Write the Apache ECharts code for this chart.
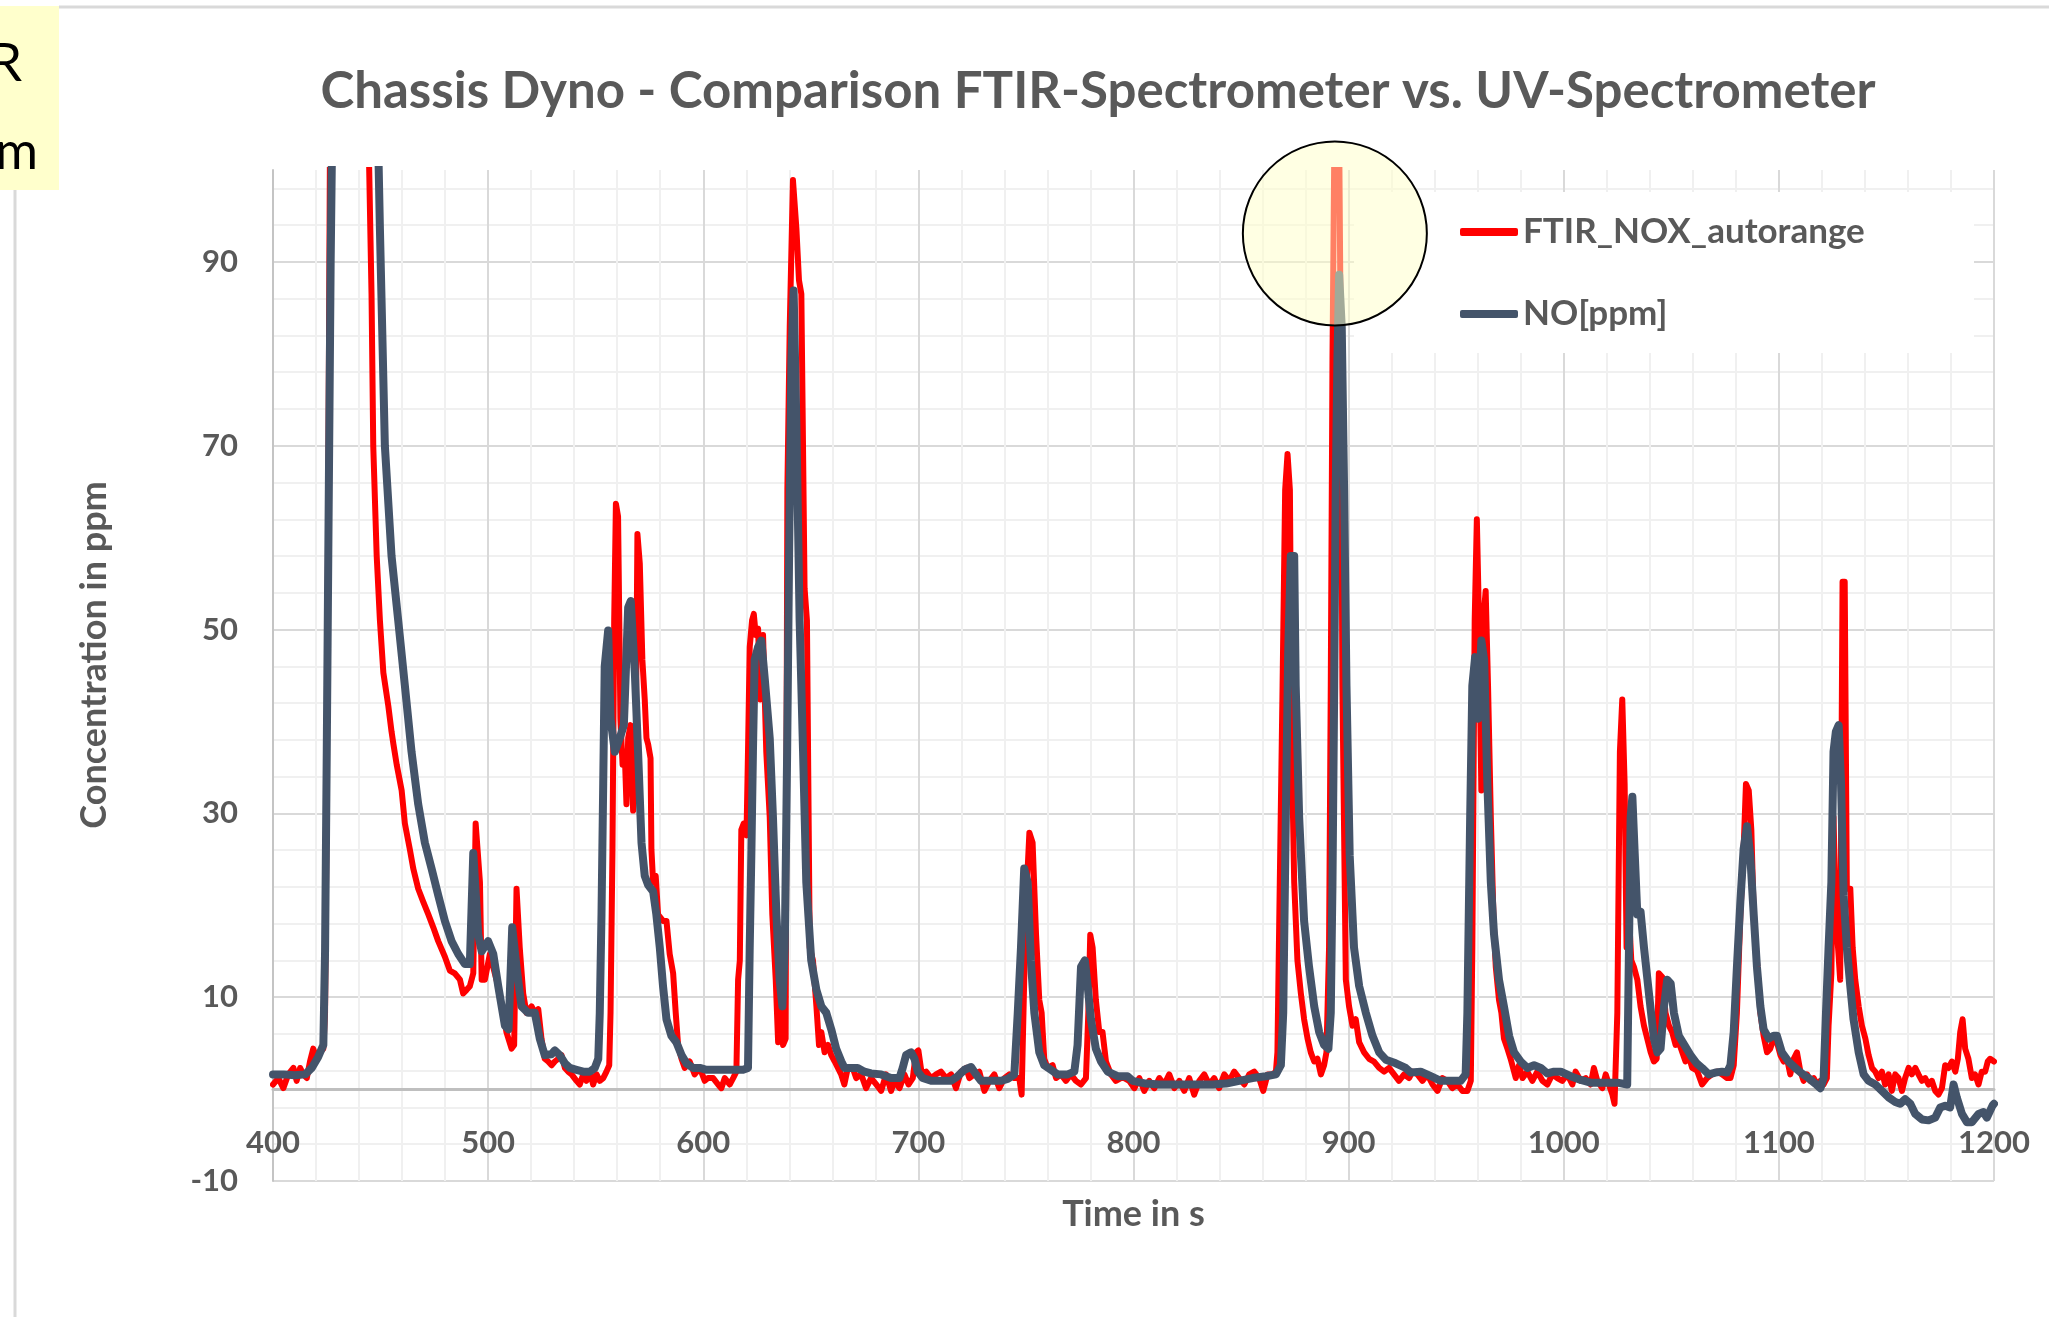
<!DOCTYPE html>
<html>
<head>
<meta charset="utf-8">
<script src="https://cdn.jsdelivr.net/npm/echarts@6/dist/echarts.min.js"></script>
<style>
html, body { margin: 0; padding: 0; background: #fff; }
#chart { width: 2049px; height: 1317px; }
</style>
</head>
<body>
<div id="chart"></div>
<script>
var titleText = 'Chassis Dyno - Comparison FTIR-Spectrometer vs. UV-Spectrometer';
var seriesNames = ['FTIR_NOX_autorange', 'NO[ppm]'];
var xLabel = 'Time in s';
var yLabel = 'Concentration in ppm';
var yTickLabels = [-10, 10, 30, 50, 70, 90];

// [time s, ppm]
var ftirNox = [
  [400.0,0.5],[402.5,1.2],[404.8,0.1],[407.1,1.6],[409.5,2.3],[411.0,0.9],[412.6,2.3],[414.1,1.6],[415.7,1.2],
  [417.2,3.0],[418.7,4.4],[420.3,3.3],[421.8,4.0],[423.4,4.4],[424.2,8.3],[424.9,29.6],[425.7,65.0],[426.5,104],
  [435.0,150],[444.4,104],[445.8,86.5],[446.6,70],[448.2,58],[449.7,51],[451.3,45.3],[453.6,41.7],[455.1,38.9],
  [456.0,37.5],[457.5,35.3],[459.8,32.5],[461.3,28.9],[463.6,26.1],[465.2,24.0],[467.5,21.8],[469.8,20.4],
  [472.2,19.0],[474.5,17.6],[476.8,16.1],[479.9,14.4],[482.2,12.9],[484.5,12.6],[486.9,11.9],[488.4,10.4],
  [490.0,10.8],[491.5,11.2],[493.1,12.6],[494.2,28.9],[496.2,22.5],[497.0,11.9],[498.5,11.9],[500.8,14.7],
  [503.1,12.6],[504.7,11.2],[507.0,8.3],[508.5,6.2],[510.9,4.4],[512.1,4.8],[513.2,21.8],[514.7,15.4],
  [516.3,10.4],[517.8,8.3],[520.2,9.0],[521.7,8.3],[523.3,8.7],[524.8,5.5],[526.3,3.3],[527.9,3.0],[529.5,2.6],
  [531.0,3.0],[532.6,3.3],[534.1,3.7],[535.7,2.3],[537.2,1.9],[538.8,1.6],[541.1,0.9],[542.6,0.5],[544.2,1.6],
  [545.7,0.9],[547.3,1.9],[548.8,0.5],[550.4,1.6],[551.9,0.9],[553.5,1.2],[555.0,1.9],[556.3,2.6],[556.9,8.3],
  [557.8,26.1],[558.6,51],[559.4,63.7],[560.4,62.3],[561.5,40.3],[562.5,35.3],[563.5,36.7],[564.3,31.0],
  [565.1,38.2],[566.2,39.6],[567.4,30.3],[568.6,36.7],[569.4,60.4],[570.5,57.2],[571.7,46.7],[572.8,42.4],
  [573.6,38.2],[574.4,37.5],[575.5,36.0],[575.9,26.1],[576.7,22.5],[577.9,23.2],[579.0,19.0],[581.3,18.3],
  [582.9,18.3],[584.4,14.7],[586.0,12.6],[587.2,8.3],[588.3,4.8],[589.9,3.3],[591.4,2.3],[593.7,3.0],[596.0,1.6],
  [598.4,2.3],[600.7,0.9],[602.2,1.2],[604.6,1.2],[606.9,0.5],[608.4,0.1],[610.0,1.2],[612.3,0.5],[613.9,1.2],
  [615.4,1.9],[616.2,11.9],[617.0,14.0],[617.7,28.2],[618.8,28.9],[620.1,27.6],[620.8,36.7],[621.6,48.1],
  [622.7,51.0],[623.5,51.7],[624.4,49.4],[625.5,50.1],[626.5,42.4],[627.8,49.4],[629.3,36.7],[630.9,29.6],
  [632.1,19.0],[633.7,11.9],[634.8,5.1],[635.8,9.7],[637.1,4.8],[638.3,5.5],[639.1,65.2],[640.2,82.9],
  [641.7,98.9],[643.3,93.6],[644.5,88.0],[645.6,86.5],[647.1,54.5],[648.2,51.0],[649.5,15.4],[651.0,14.0],
  [652.6,9.0],[653.8,4.8],[654.9,6.2],[656.4,4.0],[658.0,4.8],[659.5,3.7],[661.1,3.0],[662.6,2.3],[664.1,1.6],
  [665.6,0.5],[667.2,2.3],[669.5,2.3],[671.1,1.2],[673.4,1.6],[675.7,0.1],[678.0,1.2],[680.4,0.5],[682.7,-0.2],
  [685.0,1.6],[687.3,-0.2],[688.9,0.9],[691.2,0.1],[693.5,1.6],[695.4,0.5],[697.4,1.2],[698.9,4.0],[700.0,4.2],
  [701.6,1.6],[703.6,1.9],[705.9,1.2],[708.2,1.6],[710.5,1.9],[712.9,1.2],[715.2,1.6],[717.5,0.1],[719.8,1.9],
  [722.2,2.3],[723.7,1.2],[726.0,1.6],[728.3,1.9],[730.7,-0.2],[733.0,0.9],[735.3,1.6],[737.6,0.1],[740.0,1.2],
  [742.3,1.6],[744.6,1.2],[746.9,1.2],[748.0,-0.6],[749.2,11.9],[750.5,22.5],[751.6,27.9],[753.1,26.8],
  [754.7,16.8],[756.2,9.7],[757.3,8.3],[758.5,3.3],[760.1,2.3],[762.4,2.6],[764.0,1.2],[766.3,1.6],[768.6,0.9],
  [770.9,1.6],[773.2,0.9],[775.6,0.5],[777.9,1.2],[779.0,8.3],[779.9,16.8],[781.0,15.4],[782.5,9.7],[784.1,6.2],
  [785.6,6.2],[787.2,3.0],[789.5,1.6],[791.8,0.9],[794.1,1.2],[795.7,1.2],[798.0,0.9],[800.4,0.1],[802.7,1.2],
  [805.0,-0.2],[807.3,0.9],[809.7,0.1],[812.0,1.2],[814.3,0.5],[816.6,1.6],[819.0,0.1],[821.3,0.9],[823.6,-0.2],
  [825.9,1.2],[828.2,-0.6],[830.6,0.9],[832.9,1.6],[835.2,0.5],[837.5,1.2],[839.8,0.1],[842.2,1.6],[844.5,0.9],
  [846.8,1.9],[849.1,1.2],[851.5,0.5],[853.8,1.6],[856.1,1.9],[858.4,1.2],[860.3,-0.2],[862.3,1.6],[864.6,1.6],
  [866.2,1.9],[866.9,4.0],[868.0,22.5],[869.3,43.9],[870.5,65.2],[871.6,69.1],[872.7,65.2],[873.6,36.7],
  [874.7,22.5],[876.2,14.0],[877.8,10.4],[879.3,7.6],[880.9,5.5],[882.4,4.0],[884.0,3.0],[885.5,3.3],[887.1,1.6],
  [888.6,2.6],[889.7,4.0],[890.9,15.4],[891.7,43.9],[892.5,79.4],[893.4,104],[894.5,140],[895.6,104],
  [896.4,79.4],[897.1,43.9],[898.7,11.9],[900.2,9.0],[901.8,6.9],[903.3,7.6],[904.9,5.1],[907.2,4.0],[909.5,3.3],
  [911.8,3.0],[914.2,2.3],[916.5,1.9],[918.8,2.3],[921.1,1.6],[923.4,0.9],[925.8,1.6],[928.1,1.2],[929.7,1.9],
  [932.0,1.6],[934.3,0.9],[936.6,1.6],[939.0,0.5],[941.3,-0.2],[943.6,1.2],[945.9,0.9],[948.2,0.1],[950.6,0.5],
  [952.9,-0.2],[955.2,-0.2],[956.8,0.9],[957.5,15.4],[958.6,51],[959.6,62],[960.6,51],[961.7,32.5],[962.6,51],
  [963.7,54.2],[964.8,43.9],[966.1,29.6],[967.3,19.0],[968.4,13.3],[969.9,9.7],[971.0,8.3],[972.2,5.5],
  [973.8,4.4],[975.3,3.3],[977.7,1.2],[979.2,2.6],[980.8,1.2],[983.1,1.9],[985.4,0.9],[987.7,1.9],[990.1,0.9],
  [992.4,0.5],[994.7,1.6],[997.0,1.2],[999.3,0.9],[1001.7,1.6],[1004.0,0.5],[1005.5,1.9],[1007.9,0.9],
  [1010.2,1.2],[1012.5,0.5],[1014.0,2.3],[1015.6,0.9],[1017.9,0.1],[1019.5,1.6],[1021.0,0.5],[1022.6,-0.6],
  [1023.6,-1.6],[1024.9,8.3],[1026.1,36.7],[1027.2,42.4],[1028.3,33.2],[1029.2,15.4],[1030.3,19.0],[1031.4,14.0],
  [1032.6,13.3],[1034.2,11.9],[1035.7,9.0],[1037.3,6.9],[1038.8,5.5],[1040.4,4.0],[1041.9,3.0],[1043.2,3.3],
  [1044.2,12.6],[1045.8,12.2],[1047.3,8.3],[1048.9,6.9],[1050.4,6.2],[1052.0,4.8],[1053.5,5.1],[1055.1,4.0],
  [1056.6,3.0],[1058.2,3.5],[1059.7,2.3],[1062.0,2.0],[1064.3,0.5],[1066.6,1.2],[1068.9,1.6],[1071.3,1.9],
  [1073.6,1.6],[1075.9,1.2],[1077.5,1.2],[1079.0,2.6],[1080.5,8.3],[1082.1,19.0],[1083.6,26.1],[1084.7,33.2],
  [1086.0,32.5],[1087.2,28.2],[1088.3,19.0],[1089.8,14.0],[1091.4,8.3],[1092.9,5.8],[1094.5,4.0],[1096.0,4.4],
  [1097.6,5.5],[1099.1,5.1],[1100.7,3.7],[1102.2,3.0],[1103.8,3.3],[1105.3,1.6],[1106.9,3.3],[1108.4,4.0],
  [1110.0,1.9],[1111.5,0.9],[1113.1,1.6],[1114.6,0.9],[1116.2,1.2],[1117.7,0.5],[1119.3,0.9],[1120.8,0.5],
  [1122.3,1.2],[1123.1,6.9],[1124.4,12.6],[1125.4,29.6],[1126.5,19.0],[1127.5,15.4],[1128.5,11.9],[1129.6,55.2],
  [1130.6,55.2],[1131.6,21.8],[1133.2,21.8],[1134.3,15.4],[1135.5,11.9],[1137.1,9.0],[1138.6,6.9],[1140.2,5.5],
  [1141.7,3.7],[1143.3,2.3],[1144.8,1.9],[1146.3,1.2],[1147.9,1.9],[1149.4,0.5],[1151.0,1.6],[1152.5,-0.2],
  [1154.1,1.6],[1155.6,1.2],[1157.2,-0.2],[1158.7,1.2],[1160.3,2.3],[1161.8,1.6],[1163.4,2.3],[1164.9,1.6],
  [1166.5,0.9],[1168.0,1.2],[1169.6,0.5],[1171.1,0.9],[1172.7,-0.2],[1174.2,-0.6],[1175.8,0.1],[1177.3,2.6],
  [1178.9,2.3],[1180.4,3.0],[1182.0,1.9],[1183.2,3.3],[1184.3,6.2],[1185.4,7.6],[1186.6,4.4],[1188.1,3.3],
  [1189.7,1.2],[1191.2,1.6],[1192.8,0.5],[1194.3,1.9],[1195.9,1.9],[1197.1,3.0],[1198.2,3.3],[1200.0,3.0]
];

var noPpm = [
  [400.0,1.6],[405.0,1.6],[410.0,1.5],[415.0,1.6],[418.0,2.3],[421.0,3.5],[423.4,4.8],[424.2,15],[425.0,37],
  [425.7,58],[426.8,90],[427.5,104],[438.0,150],[448.8,104],[449.7,93.6],[452.0,70],[455.1,58],[458.2,51],
  [461.3,43.9],[464.4,36.7],[467.5,31.0],[470.6,26.8],[473.7,24.0],[476.8,21.1],[479.9,18.3],[483.0,16.1],
  [486.1,14.7],[489.2,13.6],[491.5,13.6],[493.1,25.7],[495.4,16.8],[497.0,15.0],[500.0,16.1],[502.4,14.7],
  [504.7,11.2],[507.8,6.9],[509.5,6.5],[511.2,17.6],[513.2,13.3],[515.5,9.0],[518.6,8.3],[521.7,8.3],[524.0,5.5],
  [526.3,3.7],[529.5,3.8],[531.0,4.2],[533.3,3.7],[535.7,2.8],[538.0,2.3],[541.1,2.1],[544.2,1.9],[547.3,1.9],
  [549.6,2.3],[551.2,3.3],[551.9,8.3],[552.7,19.0],[553.5,33.2],[554.2,46],[555.8,49.9],[556.9,40.3],
  [558.9,36.7],[561.2,38.2],[563.1,39.6],[565.1,52.4],[566.3,53.1],[568.2,45.3],[569.7,36.7],[571.3,26.8],
  [572.8,23.2],[574.4,22.2],[576.7,21.5],[578.2,19.0],[579.8,15.4],[581.3,11.2],[582.9,7.6],[585.2,5.8],
  [587.5,5.1],[589.9,3.7],[592.2,2.8],[595.3,2.3],[598.4,2.3],[601.5,2.1],[606.0,2.1],[612.0,2.1],[618.5,2.1],
  [620.8,2.3],[621.6,15.4],[622.4,26.1],[623.1,36.7],[623.9,46.7],[625.5,48.1],[627.0,48.8],[628.6,44.6],
  [630.9,38.2],[632.4,29.6],[634.0,19.0],[635.5,11.9],[636.8,9.0],[637.9,15.4],[639.0,36.7],[639.9,58],
  [641.0,79.4],[642.0,86.9],[643.3,72.3],[644.8,51],[646.4,36.7],[647.9,22.5],[650.2,14.0],[652.6,10.8],
  [654.9,9.0],[657.2,8.3],[659.5,6.5],[661.8,4.4],[664.2,3.0],[665.7,2.3],[668.0,2.3],[671.8,2.3],[674.9,1.9],
  [678.0,1.7],[682.7,1.6],[687.3,1.2],[691.2,1.2],[692.7,2.3],[694.3,3.7],[696.6,4.0],[698.2,3.3],[699.7,1.9],
  [702.0,1.2],[705.9,0.9],[710.5,0.9],[715.2,0.9],[718.3,1.4],[721.4,2.1],[724.5,2.4],[726.8,1.6],[729.1,0.9],
  [733.8,0.9],[738.4,0.9],[741.5,1.1],[744.6,1.6],[746.2,8.3],[747.7,15.4],[749.2,24.0],[750.8,22.5],
  [752.3,14.0],[753.9,8.3],[756.2,4.0],[758.5,2.6],[761.6,2.1],[764.7,1.6],[769.4,1.6],[772.5,1.9],[774.0,4.8],
  [775.6,13.3],[777.4,14.0],[778.7,11.2],[780.2,7.6],[782.5,4.4],[784.9,3.0],[788.0,1.9],[792.6,1.4],
  [797.2,1.4],[799.6,0.9],[805.8,0.6],[812.0,0.5],[818.2,0.5],[824.4,0.5],[830.6,0.5],[836.8,0.5],[843.0,0.6],
  [849.1,0.9],[855.3,1.2],[861.5,1.4],[866.2,1.6],[868.5,2.6],[869.6,8.3],[870.8,29.6],[871.9,47.4],[873.1,58],
  [874.7,58],[875.4,43.9],[877.0,29.6],[879.3,18.3],[881.6,13.3],[884.0,9.0],[886.3,6.2],[888.6,4.8],
  [890.6,4.4],[891.7,8.3],[892.5,22.5],[893.3,43.9],[894.0,65.2],[894.8,79.4],[895.6,88.6],[896.8,82.9],
  [897.9,65.2],[899.0,43.9],[900.5,25.4],[902.5,15.4],[904.9,11.2],[908.0,8.3],[911.1,5.8],[914.2,4.0],
  [917.3,3.2],[921.9,2.8],[926.5,2.3],[928.9,1.8],[933.5,1.9],[938.2,1.4],[942.8,0.9],[947.5,0.9],[952.1,0.9],
  [954.4,1.6],[955.2,8.3],[956.5,29.6],[957.5,43.9],[958.8,47],[960.2,40.3],[961.7,48.8],[963.0,46.7],
  [964.5,33.2],[966.1,22.5],[967.6,16.8],[969.9,11.9],[972.2,9.0],[974.6,5.8],[976.9,4.0],[980.0,3.0],
  [983.1,2.3],[986.2,2.6],[989.3,2.3],[992.4,1.7],[995.5,1.9],[998.6,1.9],[1003.2,1.4],[1007.9,1.0],
  [1012.5,0.7],[1018.7,0.7],[1024.9,0.7],[1029.5,0.5],[1030.3,0.4],[1031.1,29.6],[1031.9,31.8],[1032.9,26.1],
  [1034.2,19.0],[1035.7,19.3],[1037.3,15.4],[1039.6,10.4],[1041.9,5.5],[1043.5,4.0],[1045.0,4.4],[1046.6,9.0],
  [1048.1,11.9],[1049.7,11.5],[1051.2,8.3],[1053.5,5.8],[1056.6,4.6],[1059.2,3.6],[1061.8,2.8],[1064.3,2.3],
  [1067.4,1.6],[1070.5,1.8],[1073.6,1.9],[1075.9,1.8],[1077.5,2.6],[1079.0,6.2],[1080.5,13.3],[1082.1,20.4],
  [1083.6,26.1],[1085.2,28.6],[1086.7,25.4],[1088.3,19.0],[1089.8,13.3],[1091.4,9.0],[1092.9,6.5],[1095.3,5.5],
  [1097.6,5.8],[1099.1,5.8],[1101.4,4.0],[1104.5,3.0],[1107.6,2.3],[1110.7,1.7],[1113.8,1.2],[1116.9,0.6],
  [1119.3,0.1],[1120.8,1.2],[1121.9,8.3],[1123.1,15.4],[1124.4,22.5],[1125.4,36.7],[1126.5,38.9],[1127.8,39.6],
  [1128.9,33.2],[1130.1,21.1],[1131.6,15.4],[1133.2,11.2],[1134.7,7.6],[1137.1,4.0],[1139.4,1.6],[1141.7,0.9],
  [1144.8,0.5],[1147.9,-0.2],[1151.0,-0.9],[1154.1,-1.4],[1156.4,-1.6],[1158.7,-1.1],[1161.1,-1.6],
  [1163.4,-2.7],[1166.5,-3.3],[1169.6,-3.4],[1172.7,-3.1],[1175.0,-2.0],[1177.3,-1.8],[1179.6,-2.0],
  [1181.2,0.5],[1182.7,-0.9],[1185.1,-2.7],[1187.4,-3.6],[1189.7,-3.6],[1192.8,-2.7],[1195.1,-2.5],
  [1196.7,-3.1],[1199.3,-1.8],[1200.0,-1.6]
];

// highlighted spot near the 900 s peak (time, ppm)
var highlight = [893.6, 93.1];

var font = 'Lato, "Open Sans", sans-serif';
var gray = '#595959';
var majorGrid = '#d9d9d9';
var minorGrid = '#f0f0f0';

var chart = echarts.init(document.getElementById('chart'));

var option = {
    animation: false,
    backgroundColor: '#fff',
    grid: { left: 273, right: 55, top: 170, bottom: 136, outerBoundsMode: 'none' },
    legend: {
        orient: 'vertical',
        left: 1460,
        top: 212,
        padding: 0,
        itemWidth: 58,
        itemHeight: 8,
        itemGap: 42,
        icon: 'roundRect',
        textStyle: { fontSize: 35, fontWeight: 'bold', color: gray, fontFamily: font, lineHeight: 40 },
        data: seriesNames
    },
    xAxis: {
        type: 'value',
        min: 400,
        max: 1200,
        interval: 100,
        position: 'bottom',
        offset: -92, // axis sits on the zero line
        axisLine: { onZero: false, lineStyle: { color: '#bfbfbf', width: 3 } },
        axisTick: { show: false },
        axisLabel: {
            margin: 38, fontSize: 31, fontWeight: 'bold', color: gray, fontFamily: font,
            formatter: function (v) { return String(v); }
        },
        splitLine: { show: true, lineStyle: { color: majorGrid, width: 2 } },
        minorTick: { show: false, splitNumber: 5 },
        minorSplitLine: { show: true, lineStyle: { color: minorGrid, width: 2 } },
        name: xLabel,
        nameLocation: 'middle',
        nameGap: 107,
        nameTextStyle: { fontSize: 36, fontWeight: 'bold', color: gray, fontFamily: font }
    },
    yAxis: {
        type: 'value',
        min: -10,
        max: 100,
        interval: 4,
        axisLine: { show: true, lineStyle: { color: '#c4c4c4', width: 2 } },
        axisTick: { show: false },
        axisLabel: {
            margin: 35, fontSize: 31, fontWeight: 'bold', color: gray, fontFamily: font,
            formatter: function (v) {
                return yTickLabels.indexOf(Math.round(v)) >= 0 ? String(Math.round(v)) : '';
            }
        },
        splitLine: {
            show: true,
            showMaxLine: false,
            lineStyle: { color: [majorGrid, minorGrid, minorGrid, minorGrid, minorGrid], width: 2 }
        }
    },
    series: [
        {
            name: seriesNames[0],
            type: 'line',
            data: ftirNox,
            symbol: 'none',
            color: '#ff0000',
            lineStyle: { width: 6, color: '#ff0000', join: 'round', cap: 'round' },
            z: 2
        },
        {
            name: seriesNames[1],
            type: 'line',
            data: noPpm,
            symbol: 'none',
            color: '#44546a',
            lineStyle: { width: 8, color: '#44546a', join: 'round', cap: 'round' },
            z: 3
        }
    ]
};

chart.setOption(option);

var c = chart.convertToPixel({ gridIndex: 0 }, highlight);

chart.setOption({
    graphic: [
        { type: 'rect', shape: { x: 0, y: 6, width: 59, height: 184 }, style: { fill: '#ffffcc' }, z: 5 },
        { type: 'text', x: 22, y: 64, z: 6, style: { text: 'R', fontSize: 52, fontFamily: font, fill: '#000', align: 'right', verticalAlign: 'middle' } },
        { type: 'text', x: 38, y: 152, z: 6, style: { text: 'm', fontSize: 52, fontFamily: font, fill: '#000', align: 'right', verticalAlign: 'middle' } },
        { type: 'line', shape: { x1: 59, y1: 7, x2: 2049, y2: 7 }, style: { stroke: '#d9d9d9', lineWidth: 3 }, z: 5 },
        { type: 'line', shape: { x1: 15, y1: 190, x2: 15, y2: 1317 }, style: { stroke: '#d9d9d9', lineWidth: 3 }, z: 5 },
        { type: 'text', x: 1098, y: 92, z: 6, style: { text: titleText, fontSize: 51, fontWeight: 'bold', fontFamily: font, fill: gray, align: 'center', verticalAlign: 'middle' } },
        { type: 'text', x: 94, y: 655, rotation: Math.PI / 2, z: 6, style: { text: yLabel, fontSize: 36, fontWeight: 'bold', fontFamily: font, fill: gray, align: 'center', verticalAlign: 'middle' } },
        // white legend panel over the grid
        { type: 'rect', shape: { x: 1354, y: 192, width: 620, height: 161 }, style: { fill: '#fff' }, z: 1 },
        { type: 'circle', shape: { cx: c[0], cy: c[1], r: 92 }, style: { fill: 'rgba(255,255,200,0.5)', stroke: '#000', lineWidth: 2 }, z: 10 }
    ]
});
</script>
</body>
</html>
